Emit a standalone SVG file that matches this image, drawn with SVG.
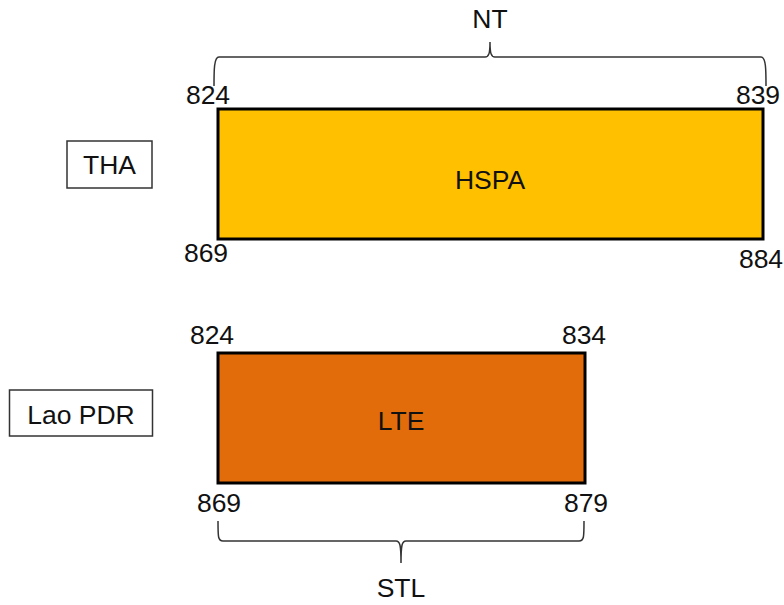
<svg xmlns="http://www.w3.org/2000/svg" width="784" height="605" viewBox="0 0 784 605">
<style>
text{font-family:"Liberation Sans",Arial,sans-serif;font-size:26.5px;fill:#111}
.band{stroke:#000;stroke-width:3}
.lbl{fill:#fff;stroke:#333;stroke-width:1.5}
.brace{fill:none;stroke:#333;stroke-width:1.5}
</style>
<rect width="784" height="605" fill="#fff"/>
<g id="tha">
<rect class="lbl" x="67" y="141" width="85" height="47"/>
<text x="109.5" y="174" text-anchor="middle">THA</text>
</g>
<g id="lao">
<rect class="lbl" x="9.5" y="390" width="143" height="46"/>
<text x="81" y="424" text-anchor="middle">Lao PDR</text>
</g>
<g id="hspa">
<rect class="band" x="218" y="109" width="545" height="130" fill="#FFC000"/>
<text x="490" y="189" text-anchor="middle">HSPA</text>
<text x="208" y="104" text-anchor="middle">824</text>
<text x="758" y="104" text-anchor="middle">839</text>
<text x="206" y="262" text-anchor="middle">869</text>
<text x="761" y="268" text-anchor="middle">884</text>
</g>
<g id="lte">
<rect class="band" x="218" y="353" width="367" height="130" fill="#E36C0A"/>
<text x="401" y="430" text-anchor="middle">LTE</text>
<text x="212" y="344" text-anchor="middle">824</text>
<text x="584" y="344" text-anchor="middle">834</text>
<text x="219" y="512" text-anchor="middle">869</text>
<text x="586" y="512" text-anchor="middle">879</text>
</g>
<g id="connectors">
<path class="brace" d="M214,86 C214,70 214,57 219,57 L485,57 C489,57 490,53 490,42 C490,53 491,57 495,57 L761,57 C766,57 766,70 766,86"/>
<path class="brace" d="M218,521 C218,537 218,541 223,541 L396,541 C400,541 401,545 401,563 C401,545 402,541 406,541 L579,541 C584,541 584,537 584,521"/>
</g>
<g id="braces-labels">
<text x="490" y="28" text-anchor="middle">NT</text>
<text x="401" y="597" text-anchor="middle">STL</text>
</g>
</svg>
